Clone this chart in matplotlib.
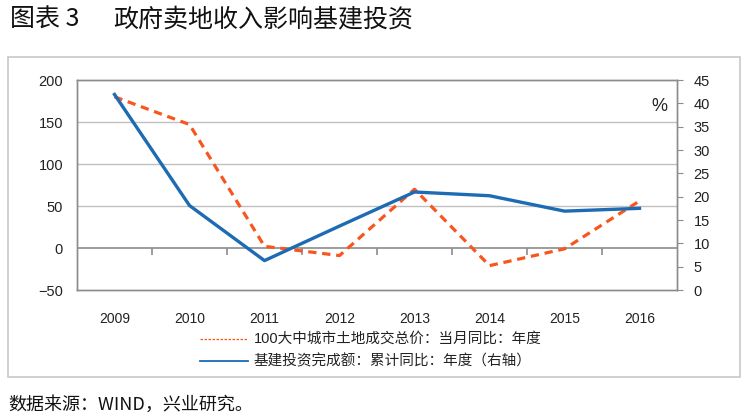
import matplotlib
matplotlib.use("Agg")
import matplotlib.pyplot as plt
import numpy as np
from matplotlib.lines import Line2D
from matplotlib.patches import Rectangle

plt.rcParams['font.family'] = ['Liberation Sans', 'Noto Sans CJK SC', 'DejaVu Sans']

years = ['2009', '2010', '2011', '2012', '2013', '2014', '2015', '2016']
land_yoy = [180, 147, 2, -9, 70, -21, -1, 56]          # left axis
infra_yoy = [41.9, 18.1, 6.3, 13.7, 21.0, 20.2, 16.9, 17.5]  # right axis
left_ticks = [-50, 0, 50, 100, 150, 200]
right_ticks = [0, 5, 10, 15, 20, 25, 30, 35, 40, 45]
legend_labels = ['100大中城市土地成交总价：当月同比：年度',
                 '基建投资完成额：累计同比：年度（右轴）']
title_num = '图表 3'
title_text = '政府卖地收入影响基建投资'
source_text = '数据来源：WIND，兴业研究。'

W, H = 752, 420
fig = plt.figure(figsize=(W / 100, H / 100), dpi=100)

def fx(px):
    return px / W

def fy(py):
    return 1 - py / H

orange = '#F9561F'
blue = '#1C6BB3'
spine_c = '#8C8C8C'
grid_c = '#C0C0C0'

# outer frame
fig.patches.append(Rectangle((fx(8), fy(377)), fx(740) - fx(8), fy(57) - fy(377),
                             transform=fig.transFigure, fill=False,
                             edgecolor='#C8C8C8', linewidth=1.2))

ax = fig.add_axes([fx(77), fy(290), fx(677) - fx(77), fy(80) - fy(290)])
ax2 = ax.twinx()

x = np.arange(len(years))
ax.set_xlim(-0.5, len(years) - 0.5)
ax.set_ylim(-50, 200)
ax2.set_ylim(0, 45)

ax.set_yticks(left_ticks)
ax2.set_yticks(right_ticks)
for v in [50, 100, 150]:
    ax.axhline(v, color=grid_c, linewidth=1.0, zorder=0)
ax.axhline(0, color=spine_c, linewidth=1.2, zorder=1)
ax.vlines(np.arange(0.5, len(years) - 0.5, 1), -8, 0, color=spine_c, linewidth=1.2, zorder=1)

ax.plot(x, land_yoy, color=orange, linewidth=2.3, linestyle=(0, (2.6, 1.8)), zorder=3)
ax2.plot(x, infra_yoy, color=blue, linewidth=2.4, zorder=4)

ax.set_xticks(x)
ax.set_xticklabels(years, fontsize=10, color='#222222')
ax.tick_params(axis='x', length=0, pad=16)
ax.tick_params(axis='y', length=0, pad=10, labelsize=10.5, labelcolor='#222222')
ax2.tick_params(axis='y', length=4, pad=8, labelsize=10.5, labelcolor='#222222',
                color=spine_c, direction='out')

for a in (ax, ax2):
    for s in a.spines.values():
        s.set_color(spine_c)
        s.set_linewidth(1.0)

ax2.text(0.97, 0.875, '%', transform=ax2.transAxes, fontsize=13, ha='center', va='center',
         color='#222222')

# legend
fig.add_artist(Line2D([fx(200), fx(248)], [fy(339), fy(339)], color=orange,
                      linewidth=0.9, linestyle=(0, (2, 1.2)), transform=fig.transFigure))
fig.add_artist(Line2D([fx(200), fx(248)], [fy(361), fy(361)], color=blue,
                      linewidth=1.3, transform=fig.transFigure))
fig.text(fx(254), fy(339), legend_labels[0], fontsize=10.5, va='center', ha='left',
         color='#222222', family=['Liberation Sans', 'Noto Sans CJK SC'])
fig.text(fx(254), fy(361), legend_labels[1], fontsize=10.5, va='center', ha='left',
         color='#222222', family=['Noto Sans CJK SC', 'DejaVu Sans'])

# title
fig.text(fx(10), fy(20), title_num, fontsize=18, va='center', ha='left', color='#111111',
         family=['Noto Sans CJK SC', 'DejaVu Sans'])
fig.text(fx(113), fy(20), title_text, fontsize=18, va='center', ha='left', color='#111111',
         family=['Noto Sans CJK SC', 'DejaVu Sans'])

# source
fig.text(fx(8), fy(405), source_text, fontsize=13, va='center', ha='left', color='#111111',
         family=['Noto Sans CJK SC', 'DejaVu Sans'])

fig.savefig('out.png', dpi=100)
